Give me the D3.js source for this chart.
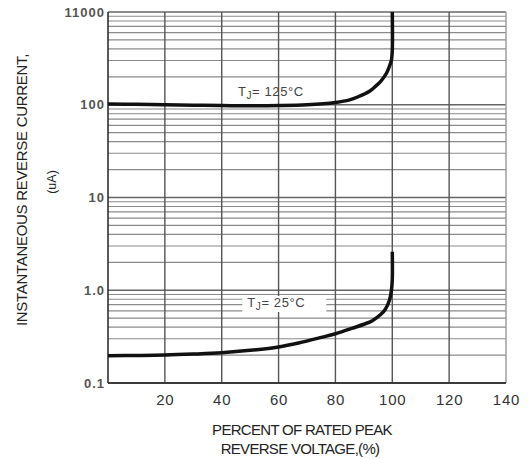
<!DOCTYPE html>
<html><head><meta charset="utf-8">
<script src="https://cdn.jsdelivr.net/npm/d3@7"></script>
<style>
body{margin:0;background:#fff;}
svg{display:block;font-family:"Liberation Sans",Arial,sans-serif;}
</style></head>
<body><svg id="c" width="528" height="459"></svg>
<script>
const xTickValues = [20,40,60,80,100,120,140];
const xTickLabels = ["20","40","60","80","100","120","140"];
const yTickValues = [0.1,1,10,100,1000];
const yTickLabels = ["0.1","1.0","10","100","11000"];
const pct125 = [0,10,20,30,40,50,60,70,80,85,88,92,94,96,98,99,99.7,100,100];
const cur125 = [102,101,100,99,98,97.5,98,100,106,113,122,140,157,180,220,260,303,390,1000];
const pct25 = [0,10,20,30,40,50,60,67,75,80,86,90,93,96,97.5,99,99.7,100,100];
const cur25 = [0.197,0.198,0.2,0.205,0.212,0.225,0.245,0.27,0.31,0.34,0.39,0.43,0.47,0.55,0.62,0.78,1.0,1.3,2.6];
const labels = [{t:"T", s:"J", r:"= 125°C", x:45.7, v:124, bg:false},{t:"T", s:"J", r:"= 25°C", x:49, v:0.66, bg:true}];

const svg = d3.select("#c");
const x = d3.scaleLinear().domain([0,140]).range([108,506]);
const y = d3.scaleLog().domain([0.1,1000]).range([383,12]);

// horizontal gridlines
const minor = [];
for (let d of [0.1,1,10,100]) for (let k=2;k<=9;k++) minor.push(d*k);
svg.append("g").selectAll("line").data(minor).join("line")
  .attr("x1",x(0)).attr("x2",x(140)).attr("y1",d=>y(d)).attr("y2",d=>y(d))
  .attr("stroke","#8a8a8a").attr("stroke-width",1.2);
svg.append("g").selectAll("line").data(yTickValues).join("line")
  .attr("x1",x(0)).attr("x2",x(140)).attr("y1",d=>y(d)).attr("y2",d=>y(d))
  .attr("stroke","#666").attr("stroke-width",1.3);
// vertical gridlines
svg.append("g").selectAll("line").data(xTickValues).join("line")
  .attr("x1",d=>x(d)).attr("x2",d=>x(d)).attr("y1",y(1000)).attr("y2",y(0.1))
  .attr("stroke",d=>d===140?"#999":"#555").attr("stroke-width",1.4);

// frame axes
svg.append("line").attr("x1",x(0)).attr("x2",x(0)).attr("y1",y(1000)).attr("y2",y(0.1)).attr("stroke","#222").attr("stroke-width",1.5);
svg.append("line").attr("x1",x(0)).attr("x2",x(140)).attr("y1",y(0.1)).attr("y2",y(0.1)).attr("stroke","#222").attr("stroke-width",1.5);

// axes
const ya = d3.axisLeft(y).tickValues(yTickValues).tickFormat((d,i)=>yTickLabels[i]).tickSize(0).tickPadding(3);
const yg = svg.append("g").attr("transform",`translate(${x(0)},0)`).call(ya);
yg.select(".domain").remove();
yg.selectAll("text").attr("font-size",13).attr("font-weight","bold").attr("fill","#555").attr("letter-spacing","1px");

const xa = d3.axisBottom(x).tickValues(xTickValues).tickFormat((d,i)=>xTickLabels[i]).tickSize(0).tickPadding(11);
const xg = svg.append("g").attr("transform",`translate(0,${y(0.1)})`).call(xa);
xg.select(".domain").remove();
xg.selectAll("text").attr("font-size",15).attr("fill","#333").attr("letter-spacing","0.8px");

// label backgrounds + labels
labels.forEach(l=>{
  const g = svg.append("g");
  if (l.bg) g.append("rect").attr("x",x(l.x)-5).attr("y",y(l.v)-11).attr("width",84).attr("height",16).attr("fill","#fff");
  const t = g.append("text").attr("x",x(l.x)).attr("y",y(l.v)).attr("font-size",13).attr("fill","#444").attr("letter-spacing","0.6px");
  t.append("tspan").text(l.t);
  t.append("tspan").attr("font-size",10).attr("dy",3).text(l.s);
  t.append("tspan").attr("dy",-3).text(l.r);
});

// curves
const line = d3.line().x(d=>x(d[0])).y(d=>y(d[1])).curve(d3.curveCatmullRom.alpha(0.5));
const d125 = pct125.map((p,i)=>[p,cur125[i]]);
const d25 = pct25.map((p,i)=>[p,cur25[i]]);
[d125,d25].forEach(d=>{
  svg.append("path").attr("d",line(d)).attr("fill","none").attr("stroke","#111").attr("stroke-width",3.5).attr("stroke-linejoin","round");
});

// axis titles
svg.append("text").attr("transform","translate(27,190) rotate(-90)").attr("text-anchor","middle")
  .attr("font-size",15).attr("fill","#222").attr("letter-spacing","-0.3px").text("INSTANTANEOUS REVERSE CURRENT,");
svg.append("text").attr("transform","translate(56,182) rotate(-90)").attr("text-anchor","middle")
  .attr("font-size",12.5).attr("fill","#222").text("(uA)");
svg.append("text").attr("x",302).attr("y",435).attr("text-anchor","middle")
  .attr("font-size",15).attr("fill","#222").attr("letter-spacing","-0.7px").text("PERCENT OF RATED PEAK");
svg.append("text").attr("x",300).attr("y",454).attr("text-anchor","middle")
  .attr("font-size",15).attr("fill","#222").attr("letter-spacing","-0.7px").text("REVERSE VOLTAGE,(%)");
</script></body></html>
